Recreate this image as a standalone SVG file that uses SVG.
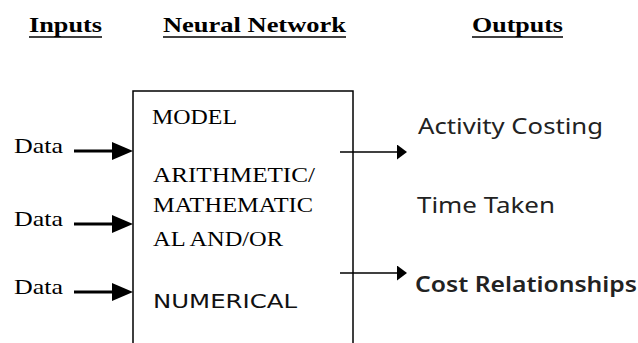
<svg xmlns="http://www.w3.org/2000/svg" width="638" height="343" viewBox="0 0 638 343">
<defs>
<style>
.hdr{font-family:"Liberation Serif","Times New Roman",serif;font-weight:bold;font-size:22px;fill:#000}
.ser{font-family:"Liberation Serif","Times New Roman",serif;font-size:22px;fill:#000}
.san{font-family:"DejaVu Sans",sans-serif;font-size:20px;fill:#111}
.out{font-family:"Noto Sans","Liberation Sans",sans-serif;font-size:22px;fill:#222}
.ul{stroke:#000;stroke-width:1.6}
.box{fill:#fff;stroke:#000;stroke-width:1.5}
.inarr{stroke:#000;stroke-width:3;fill:none}
.outarr{stroke:#000;stroke-width:1.5;fill:none}
</style>
<marker id="bigHead" markerUnits="userSpaceOnUse" markerWidth="22" markerHeight="19" refX="0" refY="9" orient="auto" viewBox="0 0 22 19">
<path d="M0,0 L21,9 L0,18 z" fill="#000"/>
</marker>
<marker id="smallHead" markerUnits="userSpaceOnUse" markerWidth="11" markerHeight="16" refX="0" refY="7.5" orient="auto" viewBox="0 0 11 16">
<path d="M0,0 L10,7.5 L0,15 z" fill="#000"/>
</marker>
</defs>
<rect width="638" height="343" fill="#fff"/>

<g id="headers">
<text class="hdr" x="29" y="32" textLength="73" lengthAdjust="spacingAndGlyphs">Inputs</text>
<line class="ul" x1="29" y1="37" x2="102" y2="37"/>
<text class="hdr" x="163" y="32" textLength="183" lengthAdjust="spacingAndGlyphs">Neural Network</text>
<line class="ul" x1="163" y1="37" x2="346" y2="37"/>
<text class="hdr" x="472" y="32" textLength="91" lengthAdjust="spacingAndGlyphs">Outputs</text>
<line class="ul" x1="472" y1="37" x2="563" y2="37"/>
</g>

<g id="neural-network">
<rect class="box" x="133" y="91" width="220" height="270"/>
<text class="ser" x="152" y="124" textLength="85" lengthAdjust="spacingAndGlyphs">MODEL</text>
<text class="ser" x="153" y="182" textLength="162" lengthAdjust="spacingAndGlyphs">ARITHMETIC/</text>
<text class="ser" x="153" y="212" textLength="160" lengthAdjust="spacingAndGlyphs">MATHEMATIC</text>
<text class="ser" x="153" y="246" textLength="130" lengthAdjust="spacingAndGlyphs">AL AND/OR</text>
<text class="san" x="153" y="308" textLength="144" lengthAdjust="spacingAndGlyphs">NUMERICAL</text>
</g>

<g id="inputs">
<text class="ser" x="14" y="153" textLength="49" lengthAdjust="spacingAndGlyphs">Data</text>
<text class="ser" x="14" y="226" textLength="49" lengthAdjust="spacingAndGlyphs">Data</text>
<text class="ser" x="14" y="294" textLength="49" lengthAdjust="spacingAndGlyphs">Data</text>
</g>

<g id="outputs">
<text class="out" x="418" y="134" textLength="185" lengthAdjust="spacingAndGlyphs">Activity Costing</text>
<text class="out" x="417" y="213" textLength="138" lengthAdjust="spacingAndGlyphs">Time Taken</text>
<text class="out" x="415" y="292" font-weight="600" fill="#1a1a1a" textLength="222" lengthAdjust="spacingAndGlyphs">Cost Relationships</text>
</g>

<g id="connectors">
<line class="inarr" x1="74" y1="151" x2="112" y2="151" marker-end="url(#bigHead)"/>
<line class="inarr" x1="74" y1="224" x2="112" y2="224" marker-end="url(#bigHead)"/>
<line class="inarr" x1="74" y1="292" x2="112" y2="292" marker-end="url(#bigHead)"/>
<line class="outarr" x1="340" y1="152" x2="397" y2="152" marker-end="url(#smallHead)"/>
<line class="outarr" x1="340" y1="273" x2="397" y2="273" marker-end="url(#smallHead)"/>
</g>
</svg>
